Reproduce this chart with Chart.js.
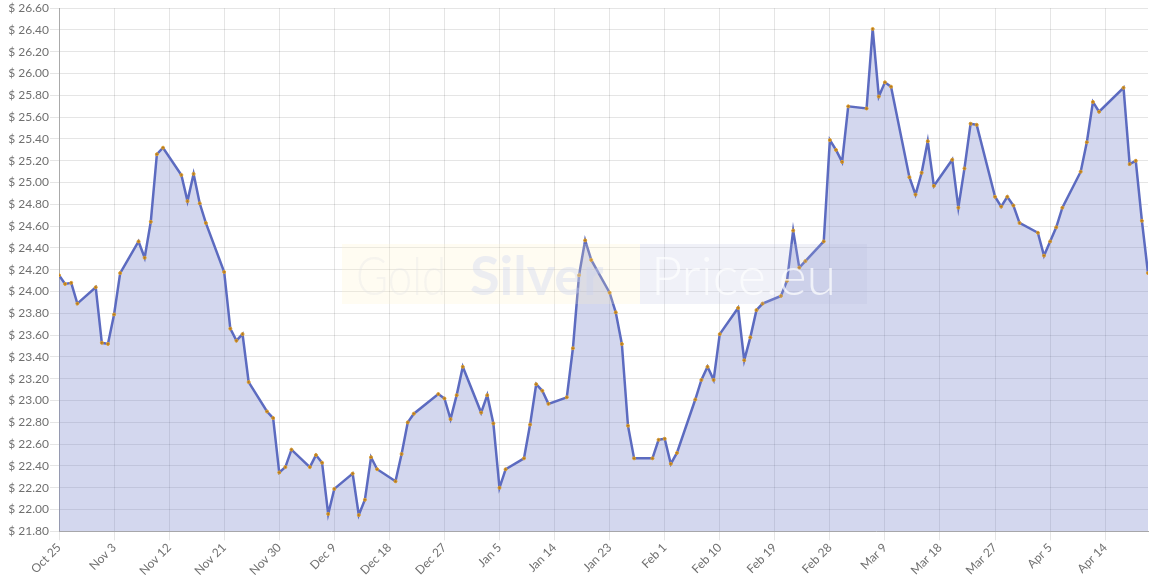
<!DOCTYPE html>
<html lang="en">
<head>
<meta charset="utf-8">
<title>Silver price</title>
<script src="https://cdn.jsdelivr.net/npm/chart.js@4.4.1/dist/chart.umd.min.js"></script>
<style>
  html, body { margin: 0; padding: 0; background: #fff; }
  #wrap { position: relative; width: 1156px; height: 578px; }
</style>
</head>
<body>
<div id="wrap"><canvas id="chart"></canvas></div>
<script>
"use strict";

// ── Data ──────────────────────────────────────────────────────────────────────

// day offset from Oct 25, one entry per trading day
const DAYS = [
  0, 1, 2, 3,
  6, 7, 8, 9, 10,
  13, 14, 15, 16, 17,
  20, 21, 22, 23, 24,
  27, 28, 29, 30, 31,
  34, 35, 36, 37, 38,
  41, 42, 43, 44, 45,
  48, 49, 50, 51, 52,
  55, 56, 57, 58,
  62, 63, 64, 65, 66,
  69, 70, 71, 72, 73,
  76, 77, 78, 79, 80,
  83, 84, 85, 86, 87,
  90, 91, 92, 93, 94,
  97, 98, 99, 100, 101,
  104, 105, 106, 107, 108,
  111, 112, 113, 114, 115,
  118, 119, 120, 121, 122,
  125, 126, 127, 128, 129,
  132, 133, 134, 135, 136,
  139, 140, 141, 142, 143,
  146, 147, 148, 149, 150,
  153, 154, 155, 156, 157,
  160, 161, 162, 163, 164,
  167, 168, 169, 170,
  174, 175, 176, 177, 178,
];

const PRICES = [
  24.15, 24.07, 24.08, 23.89,
  24.04, 23.53, 23.52, 23.79, 24.17,
  24.46, 24.31, 24.64, 25.26, 25.32,
  25.07, 24.83, 25.08, 24.81, 24.63,
  24.18, 23.66, 23.55, 23.61, 23.17,
  22.90, 22.84, 22.34, 22.39, 22.55,
  22.39, 22.50, 22.43, 21.96, 22.19,
  22.33, 21.95, 22.09, 22.48, 22.37,
  22.26, 22.51, 22.80, 22.88,
  23.06, 23.02, 22.83, 23.05, 23.31,
  22.89, 23.05, 22.79, 22.20, 22.37,
  22.47, 22.78, 23.15, 23.09, 22.97,
  23.03, 23.48, 24.15, 24.47, 24.29,
  23.99, 23.81, 23.52, 22.77, 22.47,
  22.47, 22.64, 22.65, 22.42, 22.52,
  23.01, 23.19, 23.31, 23.19, 23.61,
  23.85, 23.37, 23.58, 23.83, 23.89,
  23.96, 24.10, 24.56, 24.22, 24.28,
  24.46, 25.39, 25.30, 25.19, 25.70,
  25.68, 26.41, 25.79, 25.92, 25.88,
  25.05, 24.89, 25.09, 25.38, 24.97,
  25.21, 24.77, 25.13, 25.54, 25.53,
  24.87, 24.78, 24.87, 24.79, 24.63,
  24.54, 24.33, 24.46, 24.59, 24.77,
  25.10, 25.37, 25.74, 25.65,
  25.87, 25.17, 25.20, 24.65, 24.17,
];

const TICK_LABELS = [
  "Oct 25", "Nov 3", "Nov 12", "Nov 21", "Nov 30", "Dec 9", "Dec 18",
  "Dec 27", "Jan 5", "Jan 14", "Jan 23", "Feb 1", "Feb 10", "Feb 19",
  "Feb 28", "Mar 9", "Mar 18", "Mar 27", "Apr 5", "Apr 14",
];
const TICK_STEP = 9;
const LAST_DAY = 178;

const Y_MIN = 21.8;
const Y_MAX = 26.6;
const Y_STEP = 0.2;

// ── Styling ───────────────────────────────────────────────────────────────────

const FONT = { family: "Lato, 'Open Sans', sans-serif", size: 12 };
const TEXT = "#707070";
const GRID = "rgba(0,0,0,0.1)";

// faint site logo in the middle of the plot
const watermark = {
  id: "watermark",
  afterDatasetsDraw(chart) {
    const c = chart.ctx;
    c.save();
    c.fillStyle = "rgba(255,242,190,0.2)";
    c.fillRect(342, 244, 298, 60);
    c.fillStyle = "rgba(180,186,222,0.2)";
    c.fillRect(640, 244, 227, 60);
    c.textBaseline = "alphabetic";
    c.font = "300 54px Lato, sans-serif";
    c.fillStyle = "rgba(225,225,230,0.3)";
    c.fillText("Gold", 356, 295, 90);
    c.font = "700 54px Lato, sans-serif";
    c.fillStyle = "rgba(200,208,240,0.35)";
    c.fillText("Silver", 470, 295, 160);
    c.font = "300 54px Lato, sans-serif";
    c.fillStyle = "rgba(255,255,255,0.7)";
    c.fillText("Price.eu", 651, 295, 202);
    c.restore();
  },
};

new Chart(document.getElementById("chart"), {
  type: "line",
  data: {
    datasets: [{
      label: "Silver",
      data: DAYS.map((d, i) => ({ x: d, y: PRICES[i] })),
      borderColor: "#5c6bc0",
      borderWidth: 2.5,
      backgroundColor: "rgba(92,107,192,0.27)",
      fill: "start",
      tension: 0,
      pointRadius: 1.5,
      pointBackgroundColor: "#b07820",
      pointBorderColor: "#e0a030",
      pointBorderWidth: 1,
    }],
  },
  options: {
    animation: false,
    responsive: true,
    maintainAspectRatio: false,
    layout: { padding: { right: 8, top: 0 } },
    plugins: {
      legend: { display: false },
      tooltip: { enabled: false },
    },
    scales: {
      x: {
        type: "linear",
        min: 0,
        max: LAST_DAY,
        grid: { color: GRID, tickLength: 9 },
        border: { color: "#aaa" },
        ticks: {
          stepSize: TICK_STEP,
          includeBounds: false,
          autoSkip: false,
          maxRotation: 45,
          minRotation: 45,
          padding: 0,
          color: TEXT,
          font: FONT,
          callback: (v) => TICK_LABELS[Math.round(v / TICK_STEP)] ?? "",
        },
      },
      y: {
        min: Y_MIN,
        max: Y_MAX,
        grid: { color: GRID, tickLength: 9 },
        border: { color: "#aaa" },
        ticks: {
          stepSize: Y_STEP,
          padding: 1,
          color: TEXT,
          font: FONT,
          callback: (v) => `$ ${Number(v).toFixed(2)}`,
        },
        afterFit: (s) => { s.width = 59; },
      },
    },
  },
  plugins: [watermark],
});
</script>
</body>
</html>
